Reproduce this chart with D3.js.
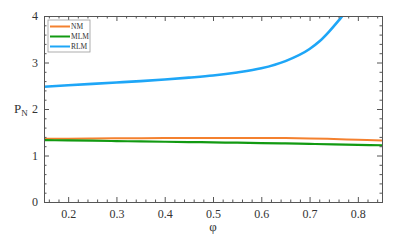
<!DOCTYPE html>
<html>
<head>
<meta charset="utf-8">
<script src="https://cdn.jsdelivr.net/npm/d3@7"></script>
<style>
  body { margin: 0; background: #fff; }
  svg text { font-family: "Liberation Serif", "Times New Roman", "DejaVu Serif", serif; fill: #333; }
</style>
</head>
<body>
<div id="chart"></div>
<script>
// values
var phi    = [0.15, 0.2, 0.25, 0.3, 0.35, 0.4, 0.45, 0.5, 0.55, 0.6, 0.65, 0.7, 0.75, 0.8, 0.85];
var nm     = [1.36, 1.362, 1.366, 1.37, 1.373, 1.376, 1.378, 1.379, 1.379, 1.378, 1.375, 1.368, 1.355, 1.338, 1.32];
var mlm    = [1.33, 1.325, 1.318, 1.31, 1.303, 1.296, 1.289, 1.282, 1.275, 1.268, 1.259, 1.25, 1.24, 1.23, 1.22];
var rlmPhi = [0.15, 0.2, 0.25, 0.3, 0.35, 0.4, 0.45, 0.5, 0.55, 0.6, 0.65, 0.7, 0.72, 0.74, 0.76, 0.775, 0.79];
var rlm    = [2.48, 2.51, 2.54, 2.57, 2.60, 2.635, 2.675, 2.72, 2.785, 2.875, 3.03, 3.29, 3.45, 3.66, 3.90, 4.09, 4.32];
var xTicks = [0.2, 0.3, 0.4, 0.5, 0.6, 0.7, 0.8];
var yTicks = [0, 1, 2, 3, 4];

var series = [
  { name: "NM",  x: phi,    y: nm,  color: "#f4812f", w: 2 },
  { name: "MLM", x: phi,    y: mlm, color: "#129a12", w: 2.2 },
  { name: "RLM", x: rlmPhi, y: rlm, color: "#1ea6f7", w: 2.6 }
];

var width = 402, height = 242,
    m = { left: 44, right: 20, top: 16, bottom: 40 };

var serif = '"Liberation Serif", "Times New Roman", "DejaVu Serif", serif';

var x = d3.scaleLinear().domain([0.15, 0.85]).range([m.left, width - m.right]),
    y = d3.scaleLinear().domain([0, 4]).range([height - m.bottom, m.top]);

var svg = d3.select("#chart").append("svg")
    .attr("width", width)
    .attr("height", height);

svg.append("clipPath").attr("id", "clip")
  .append("rect")
    .attr("x", m.left).attr("y", m.top)
    .attr("width", x.range()[1] - m.left)
    .attr("height", y.range()[0] - m.top);

var line = d3.line()
    .x(function(d) { return x(d[0]); })
    .y(function(d) { return y(d[1]); })
    .curve(d3.curveMonotoneX);

var plot = svg.append("g").attr("clip-path", "url(#clip)");
series.forEach(function(s) {
  plot.append("path")
      .datum(s.x.map(function(v, i) { return [v, s.y[i]]; }))
      .attr("d", line)
      .attr("fill", "none")
      .attr("stroke", s.color)
      .attr("stroke-width", s.w);
});

// minor ticks
var xMinor = d3.range(0.16, 0.851, 0.02).filter(function(v) { return Math.abs(v * 10 - Math.round(v * 10)) > 0.01; }),
    yMinor = d3.range(0.2, 4, 0.2).filter(function(v) { return Math.abs(v - Math.round(v)) > 0.01; });

function axis(gen, scale, ticks, size, pos, fmt) {
  var g = svg.append("g").attr("transform", pos)
      .call(gen(scale).tickValues(ticks).tickSize(size).tickFormat(fmt || ""));
  g.attr("font-family", serif);
  g.select(".domain").attr("stroke", "#555");
  g.selectAll(".tick line").attr("stroke", "#555");
  g.selectAll("text").style("font-family", serif).style("font-size", "12px");
  return g;
}

var yb = y.range()[0], yt = y.range()[1];
// bottom, top, left, right (ticks pointing inward)
[[xTicks, 5], [xMinor, 2.5]].forEach(function(t, i) {
  var gb = axis(d3.axisBottom, x, t[0], -t[1], "translate(0," + yb + ")", i === 0 ? d3.format(".1f") : null);
  gb.selectAll("text").attr("y", 7).attr("dy", "0.71em");
  axis(d3.axisTop, x, t[0], -t[1], "translate(0," + yt + ")", null);
});
[[yTicks, 5], [yMinor, 2.5]].forEach(function(t, i) {
  var gl = axis(d3.axisLeft, y, t[0], -t[1], "translate(" + m.left + ",0)", i === 0 ? d3.format("d") : null);
  gl.selectAll("text").attr("x", -6);
  axis(d3.axisRight, y, t[0], -t[1], "translate(" + x.range()[1] + ",0)", null);
});

// axis titles
svg.append("text")
    .attr("x", x(0.5)).attr("y", 231)
    .attr("text-anchor", "middle")
    .style("font-size", "13px")
    .text("φ");

var yl = svg.append("text")
    .attr("x", 14).attr("y", 113)
    .style("font-size", "13px");
yl.append("tspan").text("P");
yl.append("tspan").attr("dy", 3).style("font-size", "9px").text("N");

// legend
var lg = svg.append("g").attr("transform", "translate(48,20)");
lg.append("rect")
    .attr("width", 42).attr("height", 32)
    .attr("fill", "#fff").attr("stroke", "#999").attr("stroke-width", 0.8);
series.forEach(function(s, i) {
  var yy = 6.5 + i * 10;
  lg.append("line")
      .attr("x1", 2).attr("x2", 22).attr("y1", yy).attr("y2", yy)
      .attr("stroke", s.color).attr("stroke-width", 2);
  lg.append("text")
      .attr("x", 23).attr("y", yy).attr("dy", "0.35em")
      .style("font-size", "7.5px")
      .text(s.name);
});
</script>
</body>
</html>
